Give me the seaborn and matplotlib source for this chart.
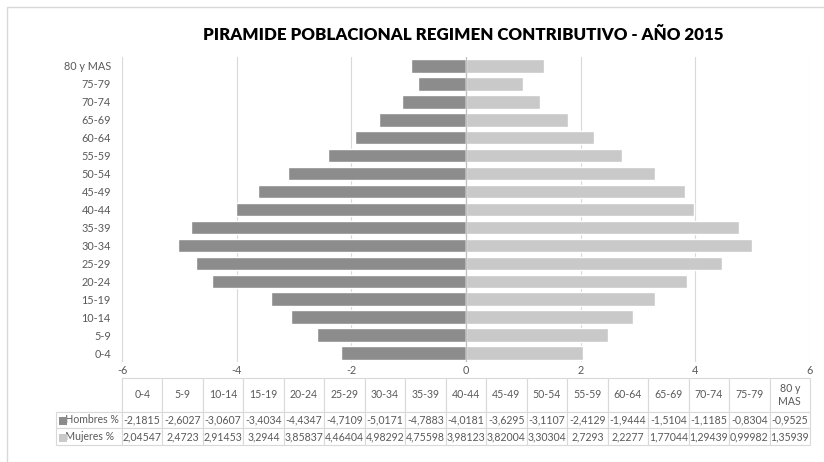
import matplotlib
matplotlib.use("Agg")
import matplotlib.pyplot as plt
import seaborn as sns
import pandas as pd
from matplotlib.patches import Rectangle

# --- DATOS ---
edades = ['0-4', '5-9', '10-14', '15-19', '20-24', '25-29', '30-34', '35-39',
          '40-44', '45-49', '50-54', '55-59', '60-64', '65-69', '70-74',
          '75-79', '80 y MAS']
hombres = [-2.1815, -2.6027, -3.0607, -3.4034, -4.4347, -4.7109, -5.0171, -4.7883,
           -4.0181, -3.6295, -3.1107, -2.4129, -1.9444, -1.5104, -1.1185,
           -0.8304, -0.9525]
mujeres = [2.04547, 2.4723, 2.91453, 3.2944, 3.85837, 4.46404, 4.98292, 4.75598,
           3.98123, 3.82004, 3.30304, 2.7293, 2.2277, 1.77044, 1.29439,
           0.99982, 1.35939]
series = ['Hombres %', 'Mujeres %']
colores = {'Hombres %': '#8c8c8c', 'Mujeres %': '#c9c9c9'}
xticks = [-6, -4, -2, 0, 2, 4, 6]

TXT = '#595959'

sns.set_theme(style='white')
plt.rcParams['font.family'] = ['Lato', 'DejaVu Sans']
plt.rcParams['axes.unicode_minus'] = False

df = pd.DataFrame({
    'edad': edades * 2,
    'valor': hombres + mujeres,
    'sexo': [series[0]] * len(edades) + [series[1]] * len(edades),
})

fig = plt.figure(figsize=(8.24, 4.62), dpi=100)
ax = fig.add_axes([122 / 824, 1 - 362 / 462, 688 / 824, 305 / 462])

sns.barplot(data=df, x='valor', y='edad', hue='sexo', order=edades[::-1],
            hue_order=series, palette=colores, dodge=False, width=0.75,
            orient='h', ax=ax, legend=False, saturation=1)

ax.set_xlim(-6, 6)
ax.set_xticks(xticks)
ax.set_xticklabels([str(t) for t in xticks])
ax.grid(axis='x', color='#d9d9d9', linewidth=0.8)
ax.set_axisbelow(True)
ax.axvline(0, color='#bfbfbf', linewidth=0.9, zorder=3)
for s in ax.spines.values():
    s.set_visible(False)
ax.set_xlabel('')
ax.set_ylabel('')
ax.tick_params(axis='both', length=0, labelsize=7.8, colors=TXT)
ax.tick_params(axis='x', pad=2)
ax.tick_params(axis='y', pad=8)

fig.text(463 / 824, 1 - 35 / 462, 'PIRAMIDE POBLACIONAL REGIMEN CONTRIBUTIVO - AÑO 2015',
         ha='center', va='center', fontsize=12.2, fontweight='heavy', color='black')

# --- TABLA DE DATOS ---
def fmt(v):
    return str(v).replace('.', ',')

encabezado = [''] + [e.replace(' y ', ' y\n') for e in edades]
filas = [['   ' + series[0]] + [fmt(v) for v in hombres],
         ['   ' + series[1]] + [fmt(v) for v in mujeres]]

tabla = ax.table(cellText=[encabezado] + filas, cellLoc='center',
                 bbox=[-66 / 688, -(445 - 362) / 305, 754 / 688, 67 / 305])
tabla.auto_set_font_size(False)
tabla.set_fontsize(7.6)
for (r, c), cell in tabla.get_celld().items():
    cell.set_edgecolor('#d9d9d9')
    cell.set_linewidth(0.8)
    cell.get_text().set_color(TXT)
    cell.set_width(66 if c == 0 else 40.5)
    cell.set_height(34 if r == 0 else 17)
    if c == 0:
        cell.get_text().set_ha('left')
        cell._loc = 'left'
        cell.PAD = 0.02
    if r == 0 and c == 0:
        cell.visible_edges = 'BR'

# cuadritos de leyenda en la tabla
for i, s in enumerate(series):
    y = 1 - (412 + 17 * i + 8.5) / 462
    fig.patches.append(Rectangle((59 / 824, y - 4 / 462), 8 / 824, 8 / 462,
                                 transform=fig.transFigure, facecolor=colores[s],
                                 edgecolor='none'))

# borde del grafico
fig.patches.append(Rectangle((7 / 824, -0.05), 1.2, 1 - 7 / 462 + 0.05,
                             transform=fig.transFigure, fill=False,
                             edgecolor='#d9d9d9', linewidth=1))

fig.savefig('out.png', dpi=100)
